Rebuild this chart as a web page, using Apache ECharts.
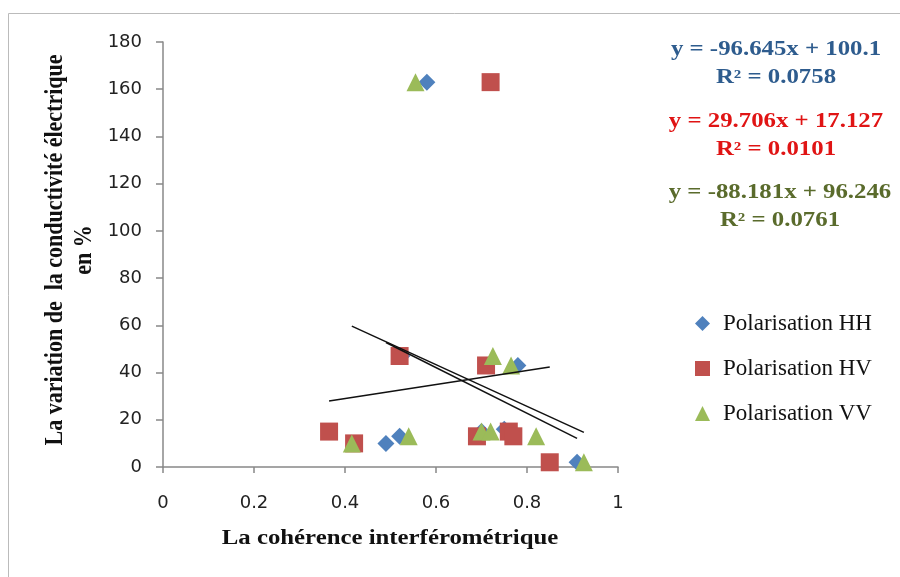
<!DOCTYPE html>
<html><head><meta charset="utf-8">
<script src="https://cdn.jsdelivr.net/npm/echarts@6/dist/echarts.min.js"></script>
<style>html,body{margin:0;padding:0;background:#fff}#c{width:900px;height:577px}</style>
</head><body><div id="c"></div>
<script>
var seriesNames = ['Polarisation HH', 'Polarisation HV', 'Polarisation VV'];
var hhData = [[0.58,163],[0.49,10],[0.52,13],[0.525,47],[0.78,43],[0.70,15],[0.75,16],[0.91,2]];
var hvData = [[0.72,163],[0.52,47],[0.71,43],[0.365,15],[0.42,10],[0.69,13],[0.76,15],[0.77,13],[0.85,2]];
var vvData = [[0.555,163],[0.415,10],[0.54,13],[0.725,47],[0.765,43],[0.70,15],[0.72,15],[0.82,13],[0.925,2]];
var slopes = [-96.645, 29.706, -88.181];
var intercepts = [100.1, 17.127, 96.246];
var r2 = ['0.0758', '0.0101', '0.0761'];
var eqLabels = ['y = -96.645x + 100.1', 'y = 29.706x + 17.127', 'y = -88.181x + 96.246'];
var xTicks = [0, 0.2, 0.4, 0.6, 0.8, 1];
var yTicks = [0, 20, 40, 60, 80, 100, 120, 140, 160, 180];

var markerColors = ['#4F81BD', '#C0504D', '#9BBB59'];
var eqColors = ['#2E5C8E', '#E01414', '#5A6B2C'];
var symbols = ['diamond', 'rect', 'triangle'];
var allData = [hhData, hvData, vvData];

var chart = echarts.init(document.getElementById('c'));
var series = [];
allData.forEach(function (d, i) {
  series.push({
    name: seriesNames[i], type: 'scatter', data: d, symbol: symbols[i],
    symbolSize: i === 1 ? 18 : (i === 0 ? 17 : 18),
    itemStyle: { color: markerColors[i], opacity: 1 }, z: 2
  });
});
allData.forEach(function (d, i) {
  var xs = d.map(function (p) { return p[0]; });
  var mn = Math.min.apply(null, xs), mx = Math.max.apply(null, xs);
  series.push({
    name: 'trend' + i, type: 'line', silent: true, showSymbol: false, symbol: 'none',
    data: [[mn, slopes[i] * mn + intercepts[i]], [mx, slopes[i] * mx + intercepts[i]]],
    lineStyle: { color: '#111', width: 1.5 }, z: 3
  });
});

var serif = '"Liberation Serif", "DejaVu Serif", serif';
var graphics = [
  { type: 'rect', shape: { x: 8.5, y: 13.5, width: 900, height: 600 }, style: { fill: 'none', stroke: '#bbb', lineWidth: 1 }, silent: true },
  { type: 'text', x: 70, y: 250, rotation: Math.PI / 2, scaleY: 1.15,
    style: { text: 'La variation de  la conductivité électrique\nen %', font: 'bold 22px ' + serif, fill: '#111', align: 'center', verticalAlign: 'middle', lineHeight: 26 } },
  { type: 'text', x: 390, y: 539, scaleX: 1.24,
    style: { text: 'La cohérence interférométrique', font: 'bold 20px ' + serif, fill: '#111', align: 'center', verticalAlign: 'middle' } }
];
var eqY = [50, 122, 193];
var eqX = [776, 776, 780];
for (var i = 0; i < 3; i++) {
  graphics.push({ type: 'text', x: eqX[i], y: eqY[i], scaleX: 1.24, style: { text: eqLabels[i], font: 'bold 20px ' + serif, fill: eqColors[i], align: 'center', verticalAlign: 'middle' } });
  graphics.push({ type: 'text', x: eqX[i], y: eqY[i] + 28, scaleX: 1.24, style: { text: 'R² = ' + r2[i], font: 'bold 20px ' + serif, fill: eqColors[i], align: 'center', verticalAlign: 'middle' } });
}

chart.setOption({
  animation: false,
  backgroundColor: '#fff',
  grid: { left: 163, right: 282, top: 42, bottom: 110, containLabel: false },
  xAxis: {
    type: 'value', min: 0, max: 1, interval: 0.2,
    axisLine: { show: true, lineStyle: { color: '#888', width: 1.5 } },
    axisTick: { show: true, length: 6, lineStyle: { color: '#888', width: 1.5 } },
    axisLabel: { color: '#222', fontSize: 18, fontFamily: '"DejaVu Sans", sans-serif', margin: 27,
      formatter: function (v) { return String(+v.toFixed(1)); } },
    splitLine: { show: false }
  },
  yAxis: {
    type: 'value', min: 0, max: 180, interval: 20,
    axisLine: { show: true, lineStyle: { color: '#888', width: 1.5 } },
    axisTick: { show: true, length: 7, lineStyle: { color: '#888', width: 1.5 } },
    axisLabel: { color: '#222', fontSize: 18, fontFamily: '"DejaVu Sans", sans-serif', margin: 21 },
    splitLine: { show: false }
  },
  legend: {
    data: seriesNames.map(function (n, i) { return { name: n, icon: i === 0 ? 'diamond' : (i === 1 ? 'rect' : 'triangle') }; }),
    orient: 'vertical', left: 690, top: 307, itemGap: 22, itemWidth: 15, itemHeight: 15,
    textStyle: { fontFamily: serif, fontSize: 23, color: '#111', padding: [0, 0, 0, 8] }
  },
  series: series,
  graphic: graphics
});
</script></body></html>
